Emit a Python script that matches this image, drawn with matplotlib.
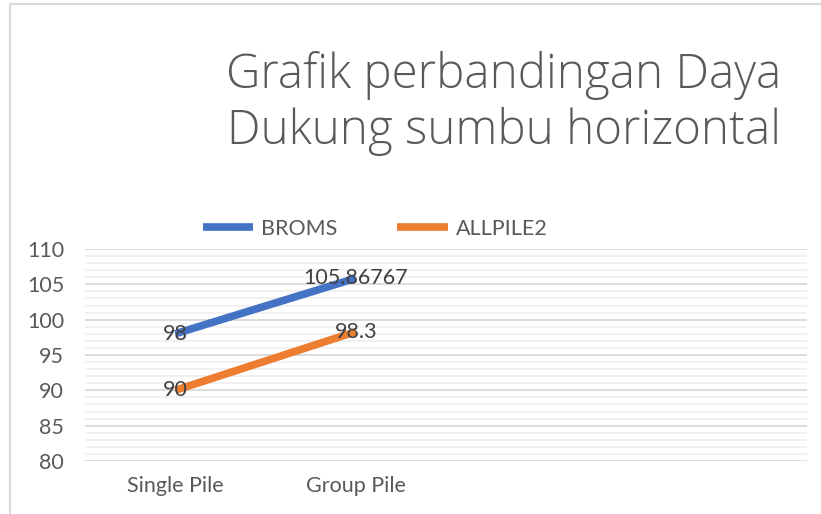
import matplotlib
matplotlib.use('Agg')
import matplotlib.pyplot as plt
from matplotlib.ticker import MultipleLocator
from matplotlib.patches import Rectangle

categories = ['Single Pile', 'Group Pile', '', '']
broms = [98, 105.86767]
allpile = [90, 98.3]
broms_labels = ['98', '105.86767']
allpile_labels = ['90', '98.3']

plt.rcParams['font.family'] = ['Lato', 'DejaVu Sans']
text_gray = '#595959'
fs = 15.5

fig = plt.figure(figsize=(8.21, 5.14), dpi=100)
W, H = 821, 514
ax = fig.add_axes([85 / W, 1 - 461 / H, (807 - 85) / W, (461 - 249) / H])

x = list(range(len(categories)))
ax.plot(x[:len(broms)], broms, color='#4472C4', lw=5.5, solid_capstyle='butt', label='BROMS', zorder=3)
ax.plot(x[:len(allpile)], allpile, color='#ED7D31', lw=5.5, solid_capstyle='butt', label='ALLPILE2', zorder=3)

for xi, v, s in zip(x, broms, broms_labels):
    ax.text(xi, v, s, ha='center', va='center', fontsize=fs, color='#404040', zorder=4)
for xi, v, s in zip(x, allpile, allpile_labels):
    ax.text(xi, v, s, ha='center', va='center', fontsize=fs, color='#404040', zorder=4)

ax.set_xlim(-0.5, len(categories) - 0.5)
ax.set_ylim(80, 110)
ax.set_xticks(x)
ax.set_xticklabels(categories)
ax.yaxis.set_major_locator(MultipleLocator(5))
ax.yaxis.set_minor_locator(MultipleLocator(1))
ax.grid(axis='y', which='major', color='#D9D9D9', lw=1.3)
ax.grid(axis='y', which='minor', color='#F0F0F0', lw=1.3)
ax.set_axisbelow(True)
for sp in ax.spines.values():
    sp.set_visible(False)
ax.tick_params(axis='both', which='both', length=0, labelsize=fs, labelcolor=text_gray)
ax.tick_params(axis='y', pad=15)
ax.tick_params(axis='x', pad=11)

fig.legend(loc='center', bbox_to_anchor=(375 / W, 1 - 229 / H), ncol=2, frameon=False,
           fontsize=fs, labelcolor=text_gray, handlelength=2.35, columnspacing=2.8,
           handletextpad=0.35)

fig.text(504 / W, 1 - 75 / H, 'Grafik perbandingan Daya', ha='center', va='center',
         fontsize=34.2, color=text_gray, family=['Open Sans', 'DejaVu Sans'], fontweight='light')
fig.text(504 / W, 1 - 132 / H, 'Dukung sumbu horizontal', ha='center', va='center',
         fontsize=34.2, color=text_gray, family=['Open Sans', 'DejaVu Sans'], fontweight='light')

fig.patches.append(Rectangle((9.5 / W, -0.1), 1.2, 1 - 4.5 / H + 0.1, transform=fig.transFigure,
                             fill=False, edgecolor='#D9D9D9', lw=1.5))

fig.savefig('out.png', dpi=100)
